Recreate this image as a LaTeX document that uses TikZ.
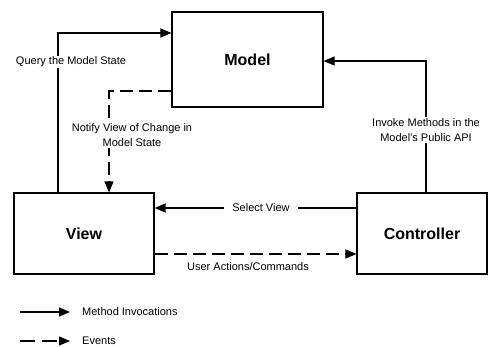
\documentclass[tikz,border=0pt]{standalone}
\usepackage{fontspec}
\setmainfont{Liberation Sans}
\usetikzlibrary{arrows.meta}
\tikzset{
  block/.style={draw,line width=1.1pt,font=\fontsize{16}{18}\selectfont\bfseries},
  meth/.style={line width=1.1pt,-{Triangle[length=11pt,width=9pt]}},
  evt/.style={meth,dash pattern=on 13pt off 6pt},
  lbl/.style={fill=white,font=\fontsize{11}{15}\selectfont,inner sep=1pt,align=center}
}
\begin{document}
\begin{tikzpicture}[x=1pt,y=-1pt]
   \useasboundingbox (0,0) rectangle (489,347);
   \node[block,minimum width=151pt,minimum height=95pt] (model) at (247.5,59.5) {Model};
   \node[block,minimum width=140pt,minimum height=81pt] (view) at (84,233.5) {View};
   \node[block,minimum width=130pt,minimum height=81pt] (ctrl) at (422,233.5) {Controller};
   \draw[meth] ([xshift=-26pt]view.north) |- ([yshift=26.5pt]model.west);
   \draw[evt] ([yshift=-31.5pt]model.west) -| ([xshift=25pt]view.north);
   \draw[meth] ([xshift=4pt]ctrl.north) |- ([yshift=-1.5pt]model.east);
   \draw[meth] ([yshift=25.5pt]ctrl.west) -- ([yshift=25.5pt]view.east);
   \draw[evt] ([yshift=-20.5pt]view.east) -- ([yshift=-20.5pt]ctrl.west);
   \node[lbl] (query) at (71,62) {Query the Model State};
   \node[lbl] (notify) at (132,135) {Notify View of Change in\\Model State};
   \node[lbl] (invoke) at (426,130) {Invoke Methods in the\\Model's Public API};
   \node[lbl,inner xsep=8pt] (select) at (261,208) {Select View};
   \node[lbl,fill=none] (user) at (248,267) {User Actions/Commands};
   \begin{scope}
    \coordinate (m0) at (20,312);
    \coordinate (m1) at (70,312);
    \coordinate (e0) at (20,341);
    \coordinate (e1) at (70,341);
    \draw[meth] (m0) -- (m1);
    \draw[evt,dash pattern=on 15pt off 7pt] (e0) -- (e1);
    \node[lbl,anchor=west] (minv) at (81,312) {Method Invocations};
    \node[lbl,anchor=west] (events) at (81,341) {Events};
   \end{scope}
\end{tikzpicture}
\end{document}
